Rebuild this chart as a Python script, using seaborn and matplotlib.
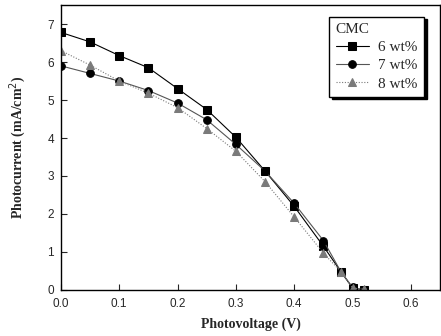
import matplotlib
matplotlib.use("Agg")
import matplotlib.pyplot as plt
import seaborn as sns
import pandas as pd

voltage = [0.0, 0.05, 0.10, 0.15, 0.20, 0.25, 0.30, 0.35, 0.40, 0.45, 0.48, 0.50, 0.52]
cmc6 = [6.78, 6.53, 6.17, 5.85, 5.30, 4.75, 4.02, 3.13, 2.20, 1.15, 0.48, 0.05, 0.00]
cmc7 = [5.90, 5.70, 5.50, 5.25, 4.92, 4.48, 3.83, 3.13, 2.28, 1.30, 0.48, 0.07, 0.00]
cmc8 = [6.30, 5.92, 5.50, 5.18, 4.80, 4.25, 3.65, 2.85, 1.92, 0.97, 0.48, 0.05, 0.02]
series_names = ["6 wt%", "7 wt%", "8 wt%"]

rows = []
for name, vals in zip(series_names, [cmc6, cmc7, cmc8]):
    for x, y in zip(voltage, vals):
        rows.append({"V": x, "I": y, "CMC": name})
df = pd.DataFrame(rows)

sns.set_style("ticks")
fig = plt.figure(figsize=(4.41, 3.36), dpi=100)
ax = fig.add_axes([0.138, 0.137, 0.86, 0.848])

palette = {"6 wt%": "#000000", "7 wt%": "#1a1a1a", "8 wt%": "#7a7a7a"}
markers = {"6 wt%": "s", "7 wt%": "o", "8 wt%": "^"}
dashes = {"6 wt%": "", "7 wt%": "", "8 wt%": (1, 1.5)}

sns.lineplot(data=df, x="V", y="I", hue="CMC", style="CMC", palette=palette,
             markers=markers, dashes=dashes, markersize=5.5, linewidth=0.8,
             markeredgecolor=None, ax=ax, legend=False)
lines = ax.get_lines()[:3]
lines[1].set_color("#555555")
lines[1].set_markerfacecolor("#000000")
lines[1].set_markeredgecolor("#000000")

leg = ax.legend(lines, series_names, title="CMC", loc="upper right",
                bbox_to_anchor=(0.965, 0.97), frameon=True,
                shadow={"color": "black", "alpha": 1.0},
                fancybox=False, alignment="left", handlelength=2.2,
                prop={"family": "Liberation Serif", "size": 11},
                title_fontproperties={"family": "Liberation Serif", "size": 11},
                borderpad=0.4, labelspacing=0.3, handletextpad=0.6,
                borderaxespad=0.2)
leg.get_frame().set_edgecolor("black")
leg.get_frame().set_linewidth(1.0)
leg.get_frame().set_alpha(1.0)

ax.set_xlim(0, 0.65)
ax.set_ylim(0, 7.5)
ax.set_xticks([0.0, 0.1, 0.2, 0.3, 0.4, 0.5, 0.6])
ax.set_yticks([0, 1, 2, 3, 4, 5, 6, 7])
ax.set_xticklabels(["0.0", "0.1", "0.2", "0.3", "0.4", "0.5", "0.6"])
ax.tick_params(direction="in", length=4, width=0.8, labelsize=8.5)
ax.tick_params(axis="x", pad=6)
ax.tick_params(axis="y", pad=5)
for lab in ax.get_xticklabels() + ax.get_yticklabels():
    lab.set_family("Liberation Sans")
for s in ax.spines.values():
    s.set_visible(True)
    s.set_linewidth(1.0)
    s.set_color("black")

ax.set_xlabel("Photovoltage (V)", fontfamily="Liberation Serif",
              fontweight="bold", fontsize=10, labelpad=5)
ax.set_ylabel("Photocurrent (mA/cm$^{2}$)", fontfamily="Liberation Serif",
              fontweight="bold", fontsize=10, labelpad=14)

fig.savefig("out.png", dpi=100)
